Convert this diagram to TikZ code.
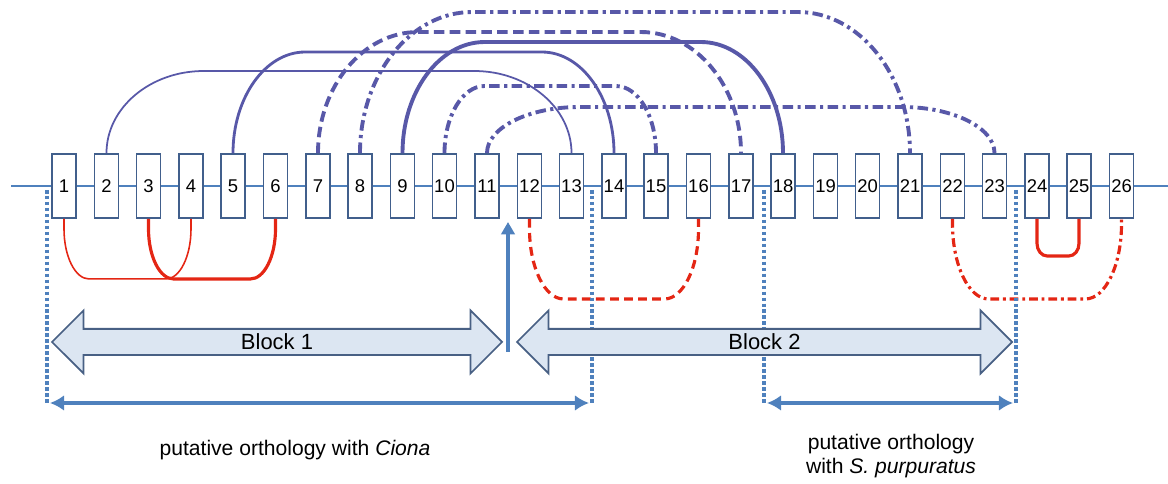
\documentclass[tikz,border=0pt]{standalone}
\usepackage{fontspec}
\setmainfont{Liberation Sans}
\usetikzlibrary{arrows.meta,shapes.arrows}

\definecolor{boxline}{RGB}{65,95,140}
\definecolor{chrom}{RGB}{79,129,189}
\definecolor{linkblue}{RGB}{88,88,168}
\definecolor{linkred}{RGB}{228,38,20}
\definecolor{blockfill}{RGB}{220,230,242}
\definecolor{blockline}{RGB}{72,96,132}

% link over the boxes: style, from, to, height, corner width, corner height
\newcommand{\overlink}[6]{%
  \draw[#1] (#2.north) -- ([shift={(0,#4-#6)}]#2.north)
    .. controls +(0,0.55*#6) and +(-0.55*#5,0) .. ([shift={(#5,#4)}]#2.north)
    -- ([shift={(-#5,#4)}]#3.north)
    .. controls +(0.55*#5,0) and +(0,0.55*#6) .. ([shift={(0,#4-#6)}]#3.north)
    -- (#3.north);}
% same, under the boxes
\newcommand{\underlink}[6]{%
  \draw[#1] (#2.south) -- ([shift={(0,#6-#4)}]#2.south)
    .. controls +(0,-0.55*#6) and +(-0.55*#5,0) .. ([shift={(#5,-#4)}]#2.south)
    -- ([shift={(-#5,-#4)}]#3.south)
    .. controls +(0.55*#5,0) and +(0,-0.55*#6) .. ([shift={(0,#6-#4)}]#3.south)
    -- (#3.south);}

\begin{document}
\begin{tikzpicture}[
  x=1cm,
  y=1cm,
  >=Latex,
  gene/.style={draw=boxline, line width=1.1pt, fill=white, minimum width=0.48cm,
    minimum height=1.28cm, inner sep=0pt, font=\fontsize{10.5}{12}\selectfont},
  chromline/.style={draw=chrom, line width=0.7pt},
  thinlink/.style={draw=linkblue, line width=1pt},
  midlink/.style={draw=linkblue, line width=1.6pt},
  boldlink/.style={draw=linkblue, line width=2.2pt},
  dashlink/.style={boldlink, dash pattern=on 6pt off 3pt},
  dotdashlink/.style={boldlink, dash pattern=on 6pt off 2.5pt on 1.8pt off 2.5pt},
  thinred/.style={draw=linkred, line width=0.9pt},
  boldred/.style={draw=linkred, line width=1.8pt},
  dashred/.style={boldred, dash pattern=on 5pt off 3pt},
  dotdashred/.style={boldred, dash pattern=on 5pt off 2.2pt on 1.6pt off 2.2pt},
  orthobound/.style={draw=chrom, line width=2pt, dash pattern=on 2pt off 1.4pt},
  orthospan/.style={draw=chrom, line width=2.2pt,
    {Latex[length=8pt,width=9pt]}-{Latex[length=8pt,width=9pt]}},
  breakpt/.style={-{Triangle[length=7pt,width=7.5pt]}, draw=chrom, line width=2.3pt},
  block/.style={double arrow, draw=blockline, fill=blockfill, line width=1pt,
    minimum width=1.26cm, double arrow head extend=0.3cm, inner xsep=0pt,
    inner ysep=1pt, font=\fontsize{12.5}{15}\selectfont},
  lbl/.style={font=\fontsize{12}{13.5}\selectfont, align=center}
]
\useasboundingbox (0,0) rectangle (23.36,9.68);

% chromosome
\coordinate (chrL) at (0.22,5.96);
\coordinate (chrR) at (23.36,5.96);
\draw[chromline] (chrL) -- (chrR);

\node[gene] (g1) at (1.28,5.96) {1};
\node[gene] (g2) at (2.13,5.96) {2};
\node[gene] (g3) at (2.97,5.96) {3};
\node[gene] (g4) at (3.82,5.96) {4};
\node[gene] (g5) at (4.66,5.96) {5};
\node[gene] (g6) at (5.51,5.96) {6};
\node[gene] (g7) at (6.36,5.96) {7};
\node[gene] (g8) at (7.20,5.96) {8};
\node[gene] (g9) at (8.05,5.96) {9};
\node[gene] (g10) at (8.89,5.96) {10};
\node[gene] (g11) at (9.74,5.96) {11};
\node[gene] (g12) at (10.59,5.96) {12};
\node[gene] (g13) at (11.43,5.96) {13};
\node[gene] (g14) at (12.28,5.96) {14};
\node[gene] (g15) at (13.12,5.96) {15};
\node[gene] (g16) at (13.97,5.96) {16};
\node[gene] (g17) at (14.82,5.96) {17};
\node[gene] (g18) at (15.66,5.96) {18};
\node[gene] (g19) at (16.51,5.96) {19};
\node[gene] (g20) at (17.35,5.96) {20};
\node[gene] (g21) at (18.20,5.96) {21};
\node[gene] (g22) at (19.05,5.96) {22};
\node[gene] (g23) at (19.89,5.96) {23};
\node[gene] (g24) at (20.74,5.96) {24};
\node[gene] (g25) at (21.58,5.96) {25};
\node[gene] (g26) at (22.43,5.96) {26};

% links above
\overlink{thinlink}{g2}{g13}{1.64}{1.94}{1.64}
\overlink{midlink}{g5}{g14}{2.02}{1.44}{2.02}
\overlink{dashlink}{g7}{g17}{2.42}{2.0}{2.42}
\overlink{dotdashlink}{g8}{g21}{2.82}{2.24}{2.82}
\overlink{boldlink}{g9}{g18}{2.22}{1.64}{2.22}
\overlink{dotdashlink}{g10}{g15}{1.34}{0.8}{1.34}
\overlink{dotdashlink}{g11}{g23}{0.92}{1.84}{0.92}

% links below
\underlink{thinred}{g1}{g4}{1.2}{0.5}{1.0}
\underlink{boldred}{g3}{g6}{1.2}{0.5}{1.0}
\underlink{dashred}{g12}{g16}{1.6}{0.68}{1.4}
\underlink{dotdashred}{g22}{g26}{1.6}{0.72}{1.5}
\underlink{boldred}{g24}{g25}{0.74}{0.2}{0.25}

% orthology bounds
\coordinate (ci1a) at (0.94,5.88);
\coordinate (ci1b) at (0.94,1.58);
\coordinate (ci2a) at (11.84,5.88);
\coordinate (ci2b) at (11.84,1.58);
\coordinate (sp1a) at (15.28,5.88);
\coordinate (sp1b) at (15.28,1.58);
\coordinate (sp2a) at (20.32,5.88);
\coordinate (sp2b) at (20.32,1.58);
\draw[orthobound] (ci1a) -- (ci1b);
\draw[orthobound] (ci2a) -- (ci2b);
\draw[orthobound] (sp1a) -- (sp1b);
\draw[orthobound] (sp2a) -- (sp2b);

% blocks
\node[block, minimum height=9.0cm] (blk1) at (5.54,2.84) {Block 1};
\node[block, minimum height=9.9cm] (blk2) at (15.29,2.84) {Block 2};

% breakpoint
\coordinate (brkS) at (10.16,2.64);
\coordinate (brkN) at (10.16,5.24);
\draw[breakpt] (brkS) -- (brkN);

% spans
\coordinate (ciL) at (1.0,1.62);
\coordinate (ciR) at (11.78,1.62);
\coordinate (spL) at (15.34,1.62);
\coordinate (spR) at (20.26,1.62);
\draw[orthospan] (ciL) -- (ciR);
\draw[orthospan] (spL) -- (spR);

\node[lbl] (ciona) at (5.9,0.68) {putative orthology with \textit{Ciona}};
\node[lbl] (purp) at (17.82,0.56) {putative orthology\\with \textit{S. purpuratus}};
\end{tikzpicture}
\end{document}
